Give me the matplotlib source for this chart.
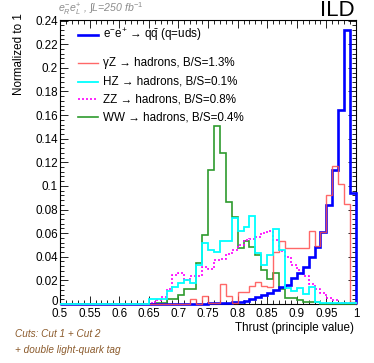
import numpy as np
import matplotlib
matplotlib.use("Agg")
import matplotlib.pyplot as plt
from matplotlib.ticker import MultipleLocator, FixedLocator, FixedFormatter
from matplotlib.transforms import ScaledTranslation

plt.rcParams['font.family'] = ['Liberation Sans', 'DejaVu Sans']
plt.rcParams['mathtext.fontset'] = 'custom'
plt.rcParams['mathtext.rm'] = 'Liberation Sans'
plt.rcParams['mathtext.it'] = 'Liberation Sans:italic'
plt.rcParams['mathtext.bf'] = 'Liberation Sans:bold'

# ---- data (50 bins from 0.5 to 1.0, width 0.01) ----
bin_edges = np.linspace(0.5, 1.0, 51)

qq_uds = [0.0] * 14 + [0.0001] * 6 + [
    0.0002, 0.0002, 0.0003, 0.0003, 0.0004, 0.0005, 0.0006, 0.0008, 0.001, 0.0013,
    0.0018, 0.0025, 0.004, 0.006, 0.0076, 0.009, 0.0115, 0.014, 0.0165, 0.022,
    0.026, 0.031, 0.040, 0.0486, 0.061, 0.084, 0.1135, 0.164, 0.232, 0.0944]

gammaZ = [0.0] * 22 + [
    0.004, 0.0, 0.007, 0.001, 0.001, 0.017, 0.007, 0.001, 0.0105, 0.0105,
    0.015, 0.019, 0.015, 0.0147, 0.044, 0.053, 0.047, 0.047, 0.047, 0.047,
    0.062, 0.049, 0.061, 0.092, 0.1165, 0.102, 0.085, 0.002]

HZ = [0.0] * 15 + [
    0.004, 0.004, 0.004, 0.011, 0.014, 0.018, 0.020, 0.0175, 0.033,
    0.0515, 0.0458, 0.0444, 0.0537, 0.0537, 0.0727, 0.0614, 0.0656, 0.0747, 0.043,
    0.0331, 0.0416, 0.0634, 0.0458, 0.0133, 0.0113, 0.0133, 0.0085, 0.0141, 0.002,
    0.001, 0.001, 0.001, 0.001, 0.001, 0.001]

ZZ = [0.0] * 15 + [
    0.001, 0.0034, 0.006, 0.0124, 0.0246, 0.026, 0.0204, 0.0237, 0.0237,
    0.0317, 0.030, 0.037, 0.0378, 0.042, 0.0458, 0.050, 0.054, 0.055, 0.057,
    0.0601, 0.0622, 0.054, 0.045, 0.0396, 0.0331, 0.029, 0.0233, 0.0167, 0.0124,
    0.009, 0.0048, 0.0034, 0.001, 0.001, 0.0005]

WW = [0.0] * 16 + [
    0.001, 0.001, 0.004, 0.004, 0.008, 0.0124, 0.0124, 0.035, 0.0585, 0.1137, 0.151,
    0.128, 0.086, 0.074, 0.047, 0.053, 0.0486, 0.0416, 0.029, 0.021, 0.026,
    0.0124, 0.005, 0.005, 0.003, 0.002, 0.002, 0.002, 0.0, 0.0, 0.0, 0.0, 0.0, 0.0]

labels = [r"e$^{-}$e$^{+}$ → q$\bar{\mathrm{q}}$ (q=uds)",
          "γZ → hadrons, B/S=1.3%",
          "HZ → hadrons, B/S=0.1%",
          "ZZ → hadrons, B/S=0.8%",
          "WW → hadrons, B/S=0.4%"]

xtick_vals = [0.5, 0.55, 0.6, 0.65, 0.7, 0.75, 0.8, 0.85, 0.9, 0.95, 1.0]
xtick_labels = ["0.5", "0.55", "0.6", "0.65", "0.7", "0.75", "0.8", "0.85", "0.9", "0.95", "1"]
ytick_vals = [0, 0.02, 0.04, 0.06, 0.08, 0.1, 0.12, 0.14, 0.16, 0.18, 0.2, 0.22, 0.24]
ytick_labels = ["0", "0.02", "0.04", "0.06", "0.08", "0.1", "0.12", "0.14", "0.16",
                "0.18", "0.2", "0.22", "0.24"]

# ---- figure ----
W, H = 374, 363
fig = plt.figure(figsize=(W / 100, H / 100), dpi=100)
ax = fig.add_axes([60 / W, 1 - 304 / H, 296 / W, 284 / H])

c_blue = '#0000ff'
c_red = '#ff4d4d'
c_cyan = '#00ffff'
c_mag = '#ff00ff'
c_green = '#2e9b2e'

ax.stairs(WW, bin_edges, baseline=0, color=c_green, lw=1.2, clip_on=False, zorder=3)
ax.stairs(ZZ, bin_edges, baseline=0, color=c_mag, lw=1.2, ls=(0, (1.2, 1.2)), clip_on=False, zorder=3)
ax.stairs(qq_uds, bin_edges, baseline=0, color=c_blue, lw=1.9, clip_on=False, zorder=4)
ax.stairs(gammaZ, bin_edges, baseline=0, color=c_red, lw=1.0, alpha=0.85, clip_on=False, zorder=5)
ax.stairs(HZ, bin_edges, baseline=0, color=c_cyan, lw=1.3, clip_on=False, zorder=6)

ax.set_xlim(0.5, 1.0)
ax.set_ylim(0, 0.2405)

ax.xaxis.set_major_locator(FixedLocator(xtick_vals))
ax.xaxis.set_major_formatter(FixedFormatter(xtick_labels))
ax.xaxis.set_minor_locator(MultipleLocator(0.01))
ax.yaxis.set_major_locator(FixedLocator(ytick_vals))
ax.yaxis.set_major_formatter(FixedFormatter(ytick_labels))
ax.yaxis.set_minor_locator(MultipleLocator(0.004))

ax.tick_params(which='both', direction='in', top=True, right=True, labelsize=8.4, width=0.6)
ax.tick_params(which='major', length=5.5)
ax.tick_params(which='minor', length=2.8)
ax.tick_params(axis='x', pad=3)
ax.tick_params(axis='y', pad=1.5)
for s in ax.spines.values():
    s.set_linewidth(0.8)

# lift the "0" y label a little so it does not touch the "0.5" x label
ylab0 = ax.yaxis.get_major_ticks()[0].label1
ylab0.set_transform(ylab0.get_transform() + ScaledTranslation(0, 2.5 / 72, fig.dpi_scale_trans))

# ---- legend (manual, ROOT style) ----
leg_rows = [1 - (35 - 20) / 284, 1 - (63.3 - 20) / 284, 1 - (81.7 - 20) / 284,
            1 - (99.3 - 20) / 284, 1 - (117.3 - 20) / 284]
leg_styles = [dict(color=c_blue, lw=1.9), dict(color=c_red, lw=1.0, alpha=0.85),
              dict(color=c_cyan, lw=1.3), dict(color=c_mag, lw=1.2, ls=(0, (1.2, 1.2))),
              dict(color=c_green, lw=1.2)]
for yy, st, lab in zip(leg_rows, leg_styles, labels):
    ax.plot([18 / 296, 38 / 296], [yy, yy], transform=ax.transAxes, **st)
    ax.text(43 / 296, yy, lab, transform=ax.transAxes, fontsize=8.4,
            va='center', ha='left')

# ---- labels and annotations ----
fig.text(354 / W, 1 - 327.5 / H, "Thrust (principle value)", ha='right', va='center', fontsize=8.4)
fig.text(19 / W, 1 - 13 / H, "Normalized to 1", rotation=90, ha='center', va='top', fontsize=8.4)
fig.text(355 / W, 1 - 10 / H, "ILD", ha='right', va='center', fontsize=16)
fig.text(58 / W, 1 - 9 / H, r"$e^{-}_{R}e^{+}_{L}$ , $\int$L=250 fb$^{-1}$",
         ha='left', va='center', fontsize=7.6, color='#8c8c8c', style='italic')
fig.text(15 / W, 1 - 334 / H, "Cuts: Cut 1 + Cut 2", ha='left', va='center',
         fontsize=7.2, color='#8b5a2b', style='italic')
fig.text(15 / W, 1 - 350 / H, "+ double light-quark tag", ha='left', va='center',
         fontsize=7.2, color='#8b5a2b', style='italic')

fig.savefig("out.png", dpi=100)
